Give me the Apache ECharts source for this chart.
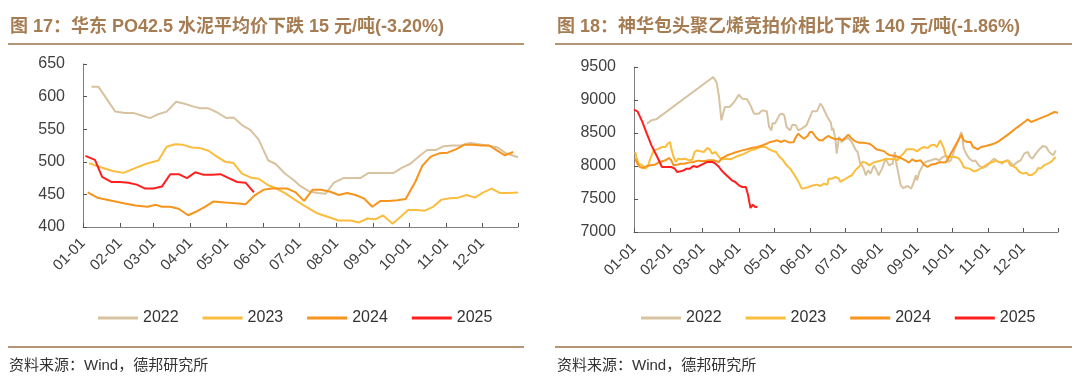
<!DOCTYPE html>
<html><head><meta charset="utf-8">
<script src="https://cdn.jsdelivr.net/npm/echarts/dist/echarts.min.js"></script>
<style>html,body{margin:0;padding:0;background:#fff}#c{width:1080px;height:384px}</style>
</head><body><div id="c"></div>
<script>
// ---------- data ----------
const seriesNames = ['2022', '2023', '2024', '2025'];
const yTicksLeft = [400, 650, 50];   // min, max, step
const yTicksRight = [7000, 9500, 500];

// Left: 华东 PO42.5 水泥平均价 (weekly)
const cementDates2022 = ['01-08','01-14','01-28','02-05','02-12','02-19','02-26','03-05','03-12','03-20','03-27','04-03','04-09','04-16','04-23','05-01','05-07','05-15','05-21','05-28','06-05','06-11','06-19','06-27','07-01','07-10','07-17','07-23','07-30','08-07','08-14','08-21','08-28','09-04','09-11','09-18','09-25','10-02','10-09','10-16','10-23','10-30','11-06','11-13','11-21','11-28','12-05','12-14','12-21','12-31'];
const cementVals2022 = [615,615,577,575,575,571,567,573,577,592,589,585,582,582,576,567,568,555,549,534,502,497,482,471,464,454,452,451,468,475,475,475,483,483,483,483,491,497,508,518,518,524,525,525,529,527,525,522,513,507];

const cementDates2023 = ['01-06','01-15','01-26','02-04','02-13','02-23','03-05','03-12','03-19','03-26','04-02','04-09','04-16','04-23','04-30','05-07','05-14','05-21','05-28','06-05','06-12','06-19','06-23','07-04','07-16','07-24','08-03','08-13','08-20','08-27','09-03','09-09','09-17','09-24','09-30','10-07','10-14','10-21','10-28','11-04','11-11','11-18','11-25','12-02','12-09','12-16','12-23','12-31'];
const cementVals2023 = [498,492,486,483,490,497,502,523,527,526,522,521,517,508,500,498,482,476,474,464,459,452,447,434,421,416,410,410,407,413,412,418,405,416,426,426,425,431,442,444,445,449,445,453,459,452,452,453];

const cementDates2024 = ['01-05','01-13','01-26','02-05','02-14','02-24','03-03','03-08','03-15','03-22','03-30','04-05','04-13','04-20','04-27','05-04','05-11','05-17','05-25','06-01','06-08','06-15','06-21','06-28','07-05','07-12','07-19','07-27','08-03','08-10','08-17','08-24','08-31','09-07','09-14','09-21','09-28','10-06','10-12','10-19','10-26','11-02','11-09','11-16','11-23','11-30','12-07','12-13','12-20','12-27'];
const cementVals2024 = [453,445,440,436,433,431,434,431,431,428,418,423,431,439,438,437,436,435,449,457,459,459,459,453,440,457,457,454,449,452,449,444,431,440,440,441,443,469,494,508,513,514,519,526,526,525,525,518,510,515];

const cementDates2025 = ['01-03','01-11','01-17','01-25','02-01','02-08','02-15','02-22','03-01','03-08','03-15','03-22','03-29','04-05','04-12','04-19','04-26','05-03','05-10','05-17','05-24'];
const cementVals2025 = [509,503,477,469,469,468,465,459,459,462,481,481,475,484,480,480,481,475,469,468,453];

// Right: 神华包头聚乙烯竞拍价 (daily, sampled)
const peDates2022 = ['01-12','01-16','01-20','03-10','03-13','03-15','03-17','03-20','03-24','03-28','04-01','04-04','04-08','04-11','04-14','04-18','04-21','04-25','04-27','04-29','04-30','05-02','05-06','05-08','05-10','05-12','05-15','05-17','05-20','05-22','05-25','05-29','06-01','06-03','06-07','06-10','06-12','06-14','06-16','06-19','06-20','06-21','06-23','06-24','06-26','06-28','07-01','07-04','07-07','07-10','07-12','07-14','07-17','07-19','07-21','07-23','07-26','07-29','07-30','08-02','08-05','08-08','08-11','08-13','08-14','08-16','08-18','08-20','08-24','08-27','08-29','08-31','09-01','09-03','09-06','09-08','09-13','09-17','09-20','09-23','09-26','09-28','09-30','10-03','10-06','10-09','10-10','10-11','10-14','10-16','10-19','10-21','10-24','10-27','10-31','11-03','11-06','11-10','11-13','11-15','11-18','11-21','11-23','11-26','11-29','12-02','12-05','12-07','12-09','12-12','12-15','12-18','12-21','12-23','12-25','12-27','12-29'];
const peVals2022 = [8642,8692,8707,9348,9263,9045,8692,8894,8894,8970,9081,9020,9010,8919,8793,8793,8843,8828,8591,8540,8652,8642,8778,8793,8768,8591,8540,8626,8616,8540,8566,8616,8742,8828,8828,8945,8894,8818,8742,8657,8540,8576,8389,8187,8440,8364,8404,8424,8364,8253,8212,8051,7970,7859,7935,7884,8010,7909,7859,7960,8111,8010,8035,8212,8061,7884,7707,7667,7697,7657,7748,7859,7783,7909,8010,8061,8086,8111,8086,8136,8162,8061,8086,8237,8364,8515,8414,8263,8162,8111,8071,8086,8010,7970,8000,8061,8111,8061,8035,8071,8086,8035,8010,8061,8086,8187,8212,8136,8111,8187,8253,8303,8288,8222,8187,8162,8237];

const peDates2023 = ['01-02','01-03','01-05','01-08','01-11','01-13','01-15','01-18','01-21','01-25','01-28','01-30','02-01','02-02','02-04','02-06','02-08','02-11','02-14','02-17','02-20','02-22','02-24','02-27','03-02','03-05','03-07','03-09','03-12','03-15','03-17','03-22','03-25','03-29','04-02','04-07','04-11','04-15','04-19','04-24','04-27','04-30','05-03','05-06','05-09','05-12','05-15','05-18','05-21','05-23','05-25','05-28','05-31','06-02','06-04','06-07','06-10','06-13','06-16','06-17','06-20','06-23','06-26','06-27','06-29','07-01','07-04','07-07','07-10','07-13','07-16','07-19','07-22','07-24','07-27','07-30','08-02','08-05','08-09','08-12','08-15','08-18','08-21','08-23','08-27','08-29','09-01','09-04','09-07','09-10','09-13','09-16','09-18','09-21','09-24','09-26','10-01','10-04','10-07','10-09','10-11','10-13','10-16','10-20','10-23','10-26','10-29','11-01','11-05','11-08','11-10','11-15','11-18','11-20','11-22','11-25','11-28','12-01','12-04','12-06','12-09','12-12','12-14','12-16','12-19','12-22','12-25','12-27','12-29'];
const peVals2023 = [8212,8136,8035,8010,7960,8000,8111,8237,8253,8288,8288,8338,8364,8263,8136,8061,8111,8101,8111,8086,8096,8212,8237,8222,8212,8273,8253,8187,8212,8136,8101,8111,8101,8136,8162,8197,8237,8253,8288,8288,8253,8230,8212,8136,8086,8010,7960,7884,7798,7733,7657,7667,7682,7697,7707,7717,7697,7733,7717,7808,7808,7833,7808,7758,7783,7798,7833,7859,7935,7985,8061,8051,8010,8035,8061,8071,8086,8111,8101,8111,8086,8152,8202,8253,8253,8253,8222,8263,8288,8273,8313,8323,8288,8389,8263,8136,8136,8136,8111,8061,7985,7970,7960,7919,7935,7970,8000,8035,8061,8086,8061,8061,8086,8010,8000,7970,7909,7884,7899,7859,7869,7909,7970,7960,8010,8035,8061,8101,8136];

const peDates2024 = ['01-02','01-04','01-06','01-09','01-12','01-15','01-19','01-23','01-28','01-31','02-02','02-04','02-07','02-10','02-13','02-17','02-21','02-25','03-02','03-06','03-10','03-15','03-17','03-22','03-26','03-30','04-04','04-08','04-12','04-17','04-21','04-25','04-28','05-01','05-04','05-07','05-10','05-12','05-15','05-18','05-20','05-22','05-24','05-27','05-30','06-01','06-03','06-06','06-09','06-12','06-14','06-17','06-20','06-23','06-26','06-29','07-02','07-04','07-07','07-10','07-13','07-17','07-22','07-25','07-28','08-01','08-04','08-06','08-09','08-13','08-16','08-19','08-22','08-25','08-28','08-31','09-01','09-04','09-07','09-10','09-13','09-17','09-21','09-24','09-26','10-09','10-11','10-14','10-17','10-19','10-21','10-23','10-26','10-30','11-03','11-06','11-10','11-18','11-26','12-03','12-05','12-08','12-15','12-22','12-28','12-31'];
const peVals2024 = [8111,8035,7985,7970,8000,8010,8020,8061,8086,8121,8086,8010,8020,8035,8035,8051,8061,8081,8071,8086,8086,8061,8111,8162,8187,8212,8237,8253,8273,8288,8313,8338,8364,8374,8389,8364,8389,8374,8354,8364,8440,8490,8455,8414,8455,8515,8515,8440,8389,8389,8424,8455,8424,8404,8414,8389,8440,8475,8414,8374,8354,8354,8338,8303,8253,8237,8222,8187,8162,8152,8136,8111,8086,8051,8101,8071,8061,8086,8020,7985,8020,8035,8061,8051,8061,8475,8389,8364,8364,8288,8273,8253,8288,8303,8323,8338,8374,8475,8586,8677,8707,8667,8717,8768,8818,8808];

const peDates2025 = ['01-01','01-04','01-08','01-12','01-16','01-21','01-25','01-29','02-02','02-05','02-07','02-10','02-13','02-15','02-18','02-21','02-24','02-27','03-02','03-05','03-09','03-12','03-15','03-17','03-20','03-23','03-26','03-29','04-01','04-04','04-07','04-08','04-09','04-10','04-11','04-13','04-15','04-17'];
const peVals2025 = [8854,8828,8677,8490,8313,8136,7985,7985,7985,7960,7909,7919,7935,7960,7960,8000,7985,8010,8035,8061,8061,8035,7985,7935,7884,7833,7783,7758,7707,7682,7682,7657,7556,7455,7364,7414,7379,7379];

const titleLeft = '图 17：华东 PO42.5 水泥平均价下跌 15 元/吨(-3.20%)';
const titleRight = '图 18：神华包头聚乙烯竞拍价相比下跌 140 元/吨(-1.86%)';
const sourceText = '资料来源：Wind，德邦研究所';

// ---------- build ----------
const monthDays = [31,28,31,30,31,30,31,31,30,31,30,31];
const dayCats = [];
monthDays.forEach((n, m) => { for (let d = 1; d <= n; d++) dayCats.push(String(m+1).padStart(2,'0') + '-' + String(d).padStart(2,'0')); });
const dayIndex = {}; dayCats.forEach((c, i) => dayIndex[c] = i);

const colors = ['#D8C3A0', '#FBBD3E', '#F7941D', '#FF1F1F'];
const FONT = '"Liberation Sans", Arial, "Noto Sans CJK SC", sans-serif';
const labelColor = '#404040';

function mk(name, dates, vals, ci, ax) {
  return {
    type: 'line', name, xAxisIndex: ax, yAxisIndex: ax,
    data: dates.map((d, i) => [dayIndex[d], vals[i]]),
    showSymbol: false, symbol: 'none', smooth: false,
    lineStyle: { width: 2, color: colors[ci] }, itemStyle: { color: colors[ci] },
    emphasis: { disabled: true }
  };
}

function xAx(gi) {
  return {
    type: 'category', gridIndex: gi, data: dayCats, boundaryGap: false,
    axisLine: { lineStyle: { color: '#7f7f7f', width: 1 } },
    axisTick: { show: true, inside: true, length: 4, lineStyle: { color: '#555' },
      interval: (i, v) => v.endsWith('-01') || i === dayCats.length - 1 },
    axisLabel: { interval: (i, v) => v.endsWith('-01'), rotate: 45, fontSize: 15,
      color: labelColor, fontFamily: FONT, margin: 14 },
    splitLine: { show: false }
  };
}
function yAx(gi, t) {
  return {
    type: 'value', gridIndex: gi, min: t[0], max: t[1], interval: t[2],
    axisLine: { show: true, lineStyle: { color: '#7f7f7f', width: 1 } },
    axisTick: { show: true, inside: true, length: 4, lineStyle: { color: '#555' } },
    axisLabel: { fontSize: 16, color: labelColor, fontFamily: FONT, margin: 18,
      formatter: v => String(v) },
    splitLine: { show: false }
  };
}
function legend(left) {
  return {
    data: seriesNames, left, top: 305, icon: 'rect', itemWidth: 40, itemHeight: 3,
    itemGap: 24, textStyle: { fontSize: 16, color: '#333', fontFamily: FONT }
  };
}

const titleColor = '#A67C52';
const ruleColor = '#B59575';
const option = {
  animation: false,
  backgroundColor: '#fff',
  grid: [
    { left: 83, top: 64, width: 435, height: 163 },
    { left: 634, top: 67, width: 424, height: 165 }
  ],
  xAxis: [xAx(0), xAx(1)],
  yAxis: [yAx(0, yTicksLeft), yAx(1, yTicksRight)],
  legend: [legend(93), legend(636)],
  series: [
    mk('2022', cementDates2022, cementVals2022, 0, 0),
    mk('2023', cementDates2023, cementVals2023, 1, 0),
    mk('2024', cementDates2024, cementVals2024, 2, 0),
    mk('2025', cementDates2025, cementVals2025, 3, 0),
    mk('2022', peDates2022, peVals2022, 0, 1),
    mk('2023', peDates2023, peVals2023, 1, 1),
    mk('2024', peDates2024, peVals2024, 2, 1),
    mk('2025', peDates2025, peVals2025, 3, 1)
  ],
  graphic: [
    { type: 'text', x: 10, y: 27, style: { text: titleLeft, font: 'bold 18px ' + FONT, fill: titleColor, verticalAlign: 'middle' } },
    { type: 'text', x: 557, y: 27, style: { text: titleRight, font: 'bold 18px ' + FONT, fill: titleColor, verticalAlign: 'middle' } },
    { type: 'line', shape: { x1: 8, y1: 44, x2: 524, y2: 44 }, style: { stroke: ruleColor, lineWidth: 2 } },
    { type: 'line', shape: { x1: 555, y1: 44, x2: 1072, y2: 44 }, style: { stroke: ruleColor, lineWidth: 2 } },
    { type: 'line', shape: { x1: 8, y1: 347, x2: 524, y2: 347 }, style: { stroke: ruleColor, lineWidth: 2 } },
    { type: 'line', shape: { x1: 555, y1: 347, x2: 1072, y2: 347 }, style: { stroke: ruleColor, lineWidth: 2 } },
    { type: 'text', x: 9, y: 366, style: { text: sourceText, font: '15px ' + FONT, fill: '#333', verticalAlign: 'middle' } },
    { type: 'text', x: 557, y: 366, style: { text: sourceText, font: '15px ' + FONT, fill: '#333', verticalAlign: 'middle' } }
  ]
};
echarts.init(document.getElementById('c')).setOption(option);
</script>
</body></html>
